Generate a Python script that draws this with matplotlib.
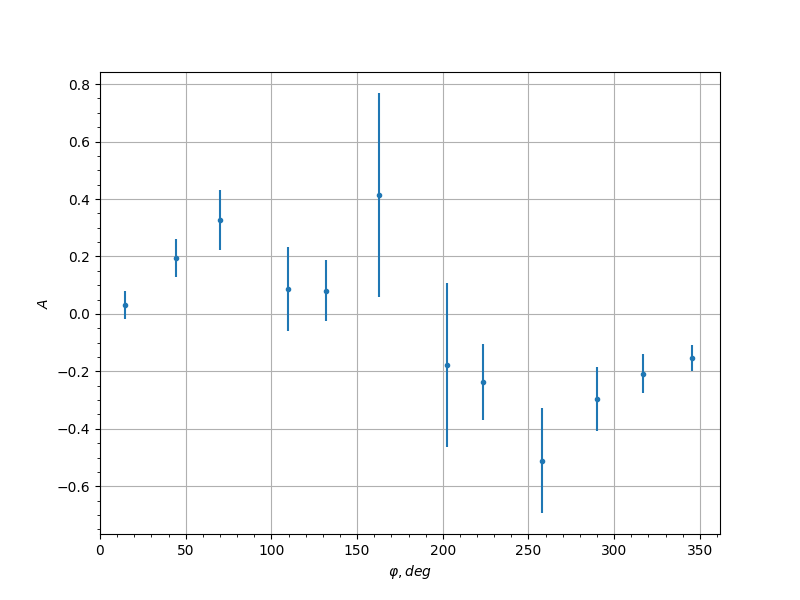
import matplotlib
matplotlib.use("Agg")
import matplotlib.pyplot as plt
from matplotlib.ticker import MultipleLocator

phi = [14.4, 44.1, 70.0, 109.6, 131.8, 162.7, 202.3, 223.2, 257.7, 289.8, 316.6, 345.2]
A = [0.031, 0.195, 0.327, 0.087, 0.080, 0.414, -0.177, -0.237, -0.511, -0.296, -0.209, -0.153]
A_err = [0.050, 0.066, 0.103, 0.145, 0.106, 0.355, 0.285, 0.134, 0.182, 0.110, 0.068, 0.045]

fig, ax = plt.subplots(figsize=(8, 6), dpi=100)
ax.errorbar(phi, A, yerr=A_err, fmt='.')
ax.set_xlim(left=0)
ax.xaxis.set_minor_locator(MultipleLocator(10))
ax.yaxis.set_minor_locator(MultipleLocator(0.05))
ax.grid(True)
ax.set_xlabel(r'$\varphi, deg$', loc='center')
ax.set_ylabel(r'$A$')
fig.savefig('out.png')
